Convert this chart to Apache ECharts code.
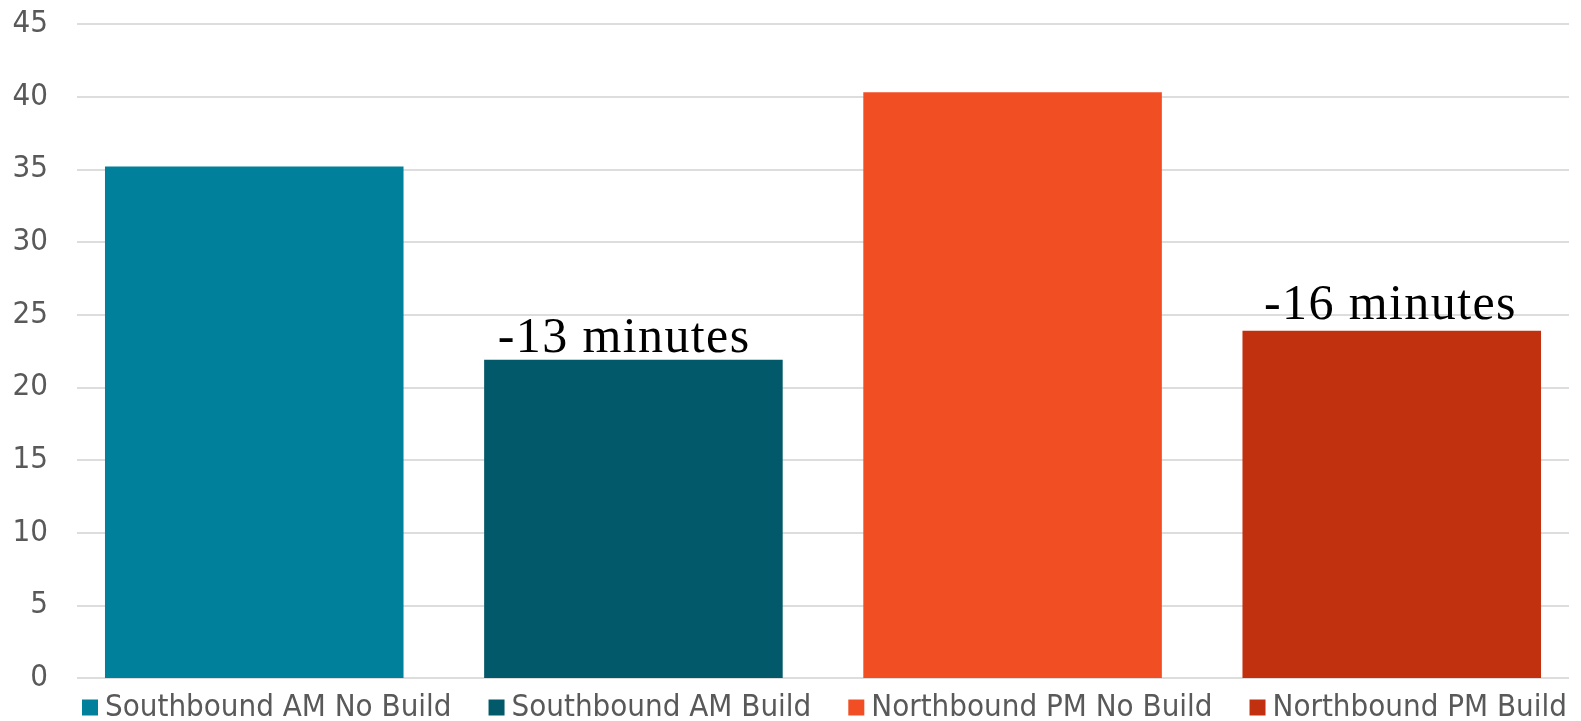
<!DOCTYPE html>
<html>
<head>
<meta charset="utf-8">
<script src="https://cdn.jsdelivr.net/npm/echarts@6/dist/echarts.min.js"></script>
<style>
  html, body { margin: 0; padding: 0; background: #ffffff; }
  #chart { width: 1581px; height: 721px; }
</style>
</head>
<body>
<div id="chart"></div>
<script>
// Travel time scenarios (minutes)
const seriesNames = ['Southbound AM No Build', 'Southbound AM Build', 'Northbound PM No Build', 'Northbound PM Build'];
const travelTimes = [35.2, 21.9, 40.3, 23.9];
const seriesColors = ['#00809A', '#02596A', '#F14E24', '#C1310F'];
const yMin = 0;
const yMax = 45;
const yStep = 5;

const axisFont = '"DejaVu Sans Condensed", "DejaVu Sans", sans-serif';

// Savings label shown above each "Build" bar, derived from its "No Build" pair
function savingsText(i) {
  if (i % 2 === 0) return '';
  return '-' + Math.round(travelTimes[i - 1] - travelTimes[i]) + ' minutes';
}

// Spread the characters a little, one rich-text token per character
function spaced(text) {
  return text.split('').map(ch => '{s|' + ch + '}').join('');
}

const labelOffsets = [[0, 0], [-10, 4], [0, 0], [-2, 0]];

const series = seriesNames.map((name, i) => ({
  name: name,
  type: 'bar',
  data: [travelTimes[i]],
  itemStyle: { color: seriesColors[i] },
  barGap: '27%',
  barCategoryGap: '3.75%',
  label: {
    show: i % 2 === 1,
    position: 'top',
    distance: 0,
    offset: labelOffsets[i],
    formatter: () => spaced(savingsText(i)),
    rich: {
      s: {
        fontFamily: '"Liberation Serif", "Times New Roman", serif',
        fontSize: 50,
        color: '#000000',
        padding: [0, 0.7, 0, 0.7]
      }
    }
  }
}));

const chart = echarts.init(document.getElementById('chart'));
chart.setOption({
  animation: false,
  backgroundColor: '#ffffff',
  grid: { left: 77, right: 12, top: 24, bottom: 43 },
  legend: {
    data: seriesNames,
    left: 82,
    top: 692,
    padding: 0,
    icon: 'rect',
    itemWidth: 16,
    itemHeight: 16,
    itemGap: 37,
    textStyle: { fontFamily: axisFont, fontSize: 31, color: '#595959', padding: [0, 0, 0, 2] }
  },
  xAxis: {
    type: 'category',
    data: [''],
    axisLine: { show: false },
    axisTick: { show: false },
    axisLabel: { show: false }
  },
  yAxis: {
    type: 'value',
    min: yMin,
    max: yMax,
    interval: yStep,
    axisLine: { show: false },
    axisTick: { show: false },
    axisLabel: { fontFamily: axisFont, fontSize: 31, color: '#595959', margin: 29 },
    splitLine: { lineStyle: { color: '#dddddd', width: 2 } }
  },
  series: series
});
</script>
</body>
</html>
